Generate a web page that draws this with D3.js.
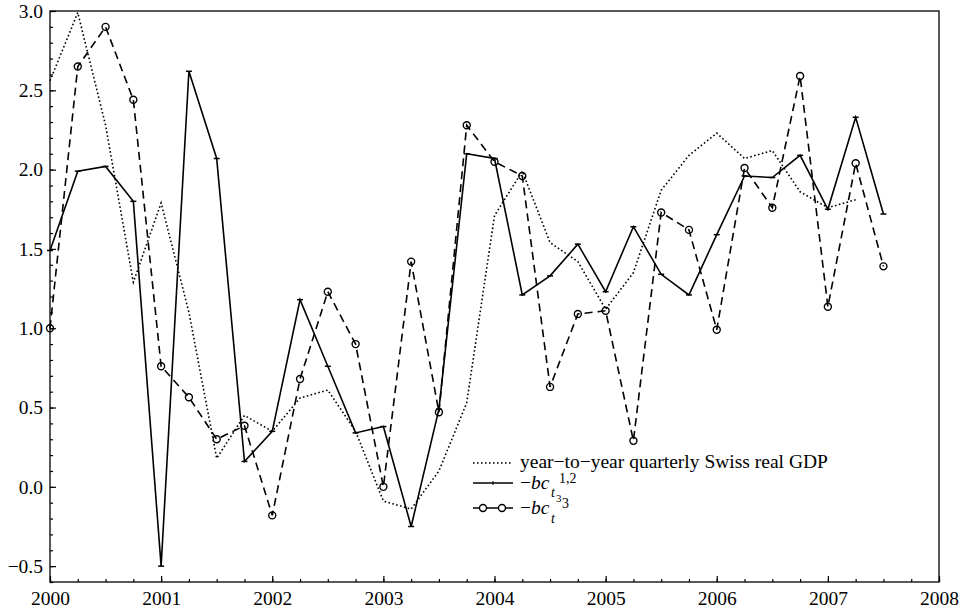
<!DOCTYPE html>
<html>
<head>
<meta charset="utf-8">
<script src="https://cdn.jsdelivr.net/npm/d3@7"></script>
<style>
  body { margin: 0; background: #fff; }
  svg { display: block; font-family: "Liberation Serif", "Times New Roman", "DejaVu Serif", serif; }
</style>
</head>
<body>
<svg id="chart" width="962" height="611"></svg>
<script>
// quarterly dates (x)
var quarters = [2000, 2000.25, 2000.5, 2000.75, 2001, 2001.25, 2001.5, 2001.75,
  2002, 2002.25, 2002.5, 2002.75, 2003, 2003.25, 2003.5, 2003.75,
  2004, 2004.25, 2004.5, 2004.75, 2005, 2005.25, 2005.5, 2005.75,
  2006, 2006.25, 2006.5, 2006.75, 2007, 2007.25, 2007.5]

// year-to-year quarterly Swiss real GDP (ends 2007Q2)
var gdp = [2.56, 2.99, 2.28, 1.29, 1.79, 1.10, 0.18, 0.45, 0.35, 0.56, 0.61, 0.35,
  -0.09, -0.14, 0.10, 0.53, 1.71, 1.99, 1.54, 1.42, 1.12, 1.35, 1.87, 2.09,
  2.23, 2.07, 2.12, 1.86, 1.76, 1.81]

// -bc_t^{1,2}
var bc12 = [1.49, 1.99, 2.02, 1.80, -0.50, 2.62, 2.07, 0.16, 0.35, 1.18, 0.76, 0.34,
  0.38, -0.25, 0.49, 2.10, 2.07, 1.21, 1.33, 1.53, 1.23, 1.64, 1.34, 1.21,
  1.59, 1.96, 1.95, 2.09, 1.75, 2.33, 1.72]

// -bc_t^3
var bc3 = [1.00, 2.65, 2.90, 2.44, 0.76, 0.565, 0.30, 0.385, -0.18, 0.68, 1.23, 0.90,
  0.00, 1.42, 0.47, 2.28, 2.05, 1.96, 0.63, 1.09, 1.11, 0.29, 1.73, 1.62,
  0.99, 2.01, 1.76, 2.59, 1.135, 2.04, 1.39]

var xTicks = [2000, 2001, 2002, 2003, 2004, 2005, 2006, 2007, 2008]
var yTicks = [-0.5, 0.0, 0.5, 1.0, 1.5, 2.0, 2.5, 3.0]

var dims = { width: 962, height: 611, margin: { top: 11, right: 23, bottom: 29, left: 50 } }

var svg = d3.select("#chart")

var xScale = d3.scaleLinear()
    .domain([2000, 2008])
    .range([dims.margin.left, dims.width - dims.margin.right])

var yScale = d3.scaleLinear()
    .domain([-0.6, 3.0])
    .range([dims.height - dims.margin.bottom, dims.margin.top])

var fmt = d3.format(".1f")
var minus = s => s.replace("-", "\u2212")

// minor ticks
var xMinor = []
for (var q = 0; q <= 32; q++) xMinor.push(2000 + q / 4)
var yMinor = []
for (var k = -6; k <= 30; k++) yMinor.push(k / 10)

svg.append("g")
    .attr("transform", "translate(0," + yScale(-0.6) + ")")
    .call(d3.axisBottom(xScale).tickValues(xMinor).tickSize(-3).tickFormat(""))
    .call(g => g.select(".domain").remove())

svg.append("g")
    .attr("transform", "translate(" + xScale(2000) + ",0)")
    .call(d3.axisLeft(yScale).tickValues(yMinor).tickSize(-3).tickFormat(""))
    .call(g => g.select(".domain").remove())

// major ticks + labels
svg.append("g")
    .attr("class", "x-axis")
    .attr("transform", "translate(0," + yScale(-0.6) + ")")
    .call(d3.axisBottom(xScale).tickValues(xTicks).tickSize(-6).tickPadding(9).tickFormat(d3.format("d")))
    .call(g => g.select(".domain").remove())
    .selectAll("text")
    .style("font-size", "19.5px")
    .style("font-family", "Liberation Serif")
    .attr("fill", "#000")

svg.append("g")
    .attr("class", "y-axis")
    .attr("transform", "translate(" + xScale(2000) + ",0)")
    .call(d3.axisLeft(yScale).tickValues(yTicks).tickSize(-6).tickPadding(7).tickFormat(d => minus(fmt(d))))
    .call(g => g.select(".domain").remove())
    .selectAll("text")
    .style("font-size", "19.5px")
    .style("font-family", "Liberation Serif")
    .attr("fill", "#000")

svg.selectAll(".tick line").attr("stroke", "#000").attr("stroke-width", 1.2)

// frame
svg.append("rect")
    .attr("x", xScale(2000))
    .attr("y", yScale(3.0))
    .attr("width", xScale(2008) - xScale(2000))
    .attr("height", yScale(-0.6) - yScale(3.0))
    .attr("fill", "none")
    .attr("stroke", "#000")
    .attr("stroke-width", 1.3)

var line = d3.line()
    .x(d => xScale(d[0]))
    .y(d => yScale(d[1]))

var gdpPts = gdp.map((v, i) => [quarters[i], v])
var bc12Pts = bc12.map((v, i) => [quarters[i], v])
var bc3Pts = bc3.map((v, i) => [quarters[i], v])

svg.append("path")
    .datum(gdpPts)
    .attr("d", line)
    .attr("fill", "none")
    .attr("stroke", "#000")
    .attr("stroke-width", 1.6)
    .attr("stroke-dasharray", "1.6,2.4")

svg.append("path")
    .datum(bc12Pts)
    .attr("d", line)
    .attr("fill", "none")
    .attr("stroke", "#000")
    .attr("stroke-width", 1.6)

svg.append("g")
    .selectAll("line")
    .data(bc12Pts)
    .enter()
    .append("line")
    .attr("x1", d => xScale(d[0]) - 3)
    .attr("x2", d => xScale(d[0]) + 3)
    .attr("y1", d => yScale(d[1]))
    .attr("y2", d => yScale(d[1]))
    .attr("stroke", "#000")
    .attr("stroke-width", 1.5)

svg.append("path")
    .datum(bc3Pts)
    .attr("d", line)
    .attr("fill", "none")
    .attr("stroke", "#000")
    .attr("stroke-width", 1.6)
    .attr("stroke-dasharray", "8,5")

svg.append("g")
    .selectAll("circle")
    .data(bc3Pts)
    .enter()
    .append("circle")
    .attr("cx", d => xScale(d[0]))
    .attr("cy", d => yScale(d[1]))
    .attr("r", 3.5)
    .attr("fill", "none")
    .attr("stroke", "#000")
    .attr("stroke-width", 1.4)

// legend
var lg = svg.append("g").attr("class", "legend")
var lx0 = 473, lx1 = 513, tx = 520

lg.append("line").attr("x1", lx0).attr("x2", lx1).attr("y1", 463).attr("y2", 463)
    .attr("stroke", "#000").attr("stroke-width", 1.6).attr("stroke-dasharray", "1.6,2.4")
lg.append("text").attr("x", tx).attr("y", 468).style("font-size", "19.5px")
    .text("year\u2212to\u2212year quarterly Swiss real GDP")

lg.append("line").attr("x1", lx0).attr("x2", lx1).attr("y1", 483).attr("y2", 483)
    .attr("stroke", "#000").attr("stroke-width", 1.6)
lg.append("line").attr("x1", lx0 + 20).attr("x2", lx0 + 20).attr("y1", 481).attr("y2", 485)
    .attr("stroke", "#000").attr("stroke-width", 1)

var t2 = lg.append("text").attr("x", tx).attr("y", 489).style("font-size", "19.5px")
t2.append("tspan").text("\u2212")
t2.append("tspan").style("font-style", "italic").text("bc")
lg.append("text").attr("x", 559).attr("y", 483).style("font-size", "14px").text("1,2")
lg.append("text").attr("x", 551).attr("y", 497).style("font-size", "14px").style("font-style", "italic").text("t")
lg.append("text").attr("x", 556).attr("y", 502).style("font-size", "11px").text("3")

lg.append("line").attr("x1", lx0).attr("x2", lx1).attr("y1", 508).attr("y2", 508)
    .attr("stroke", "#000").attr("stroke-width", 1.6)
lg.selectAll("circle.lc")
    .data([483, 502])
    .enter()
    .append("circle")
    .attr("cx", d => d)
    .attr("cy", 508)
    .attr("r", 3.5)
    .attr("fill", "#fff")
    .attr("stroke", "#000")
    .attr("stroke-width", 1.4)

var t3 = lg.append("text").attr("x", tx).attr("y", 514).style("font-size", "19.5px")
t3.append("tspan").text("\u2212")
t3.append("tspan").style("font-style", "italic").text("bc")
lg.append("text").attr("x", 562).attr("y", 508).style("font-size", "14px").text("3")
lg.append("text").attr("x", 551).attr("y", 523).style("font-size", "14px").style("font-style", "italic").text("t")
</script>
</body>
</html>
